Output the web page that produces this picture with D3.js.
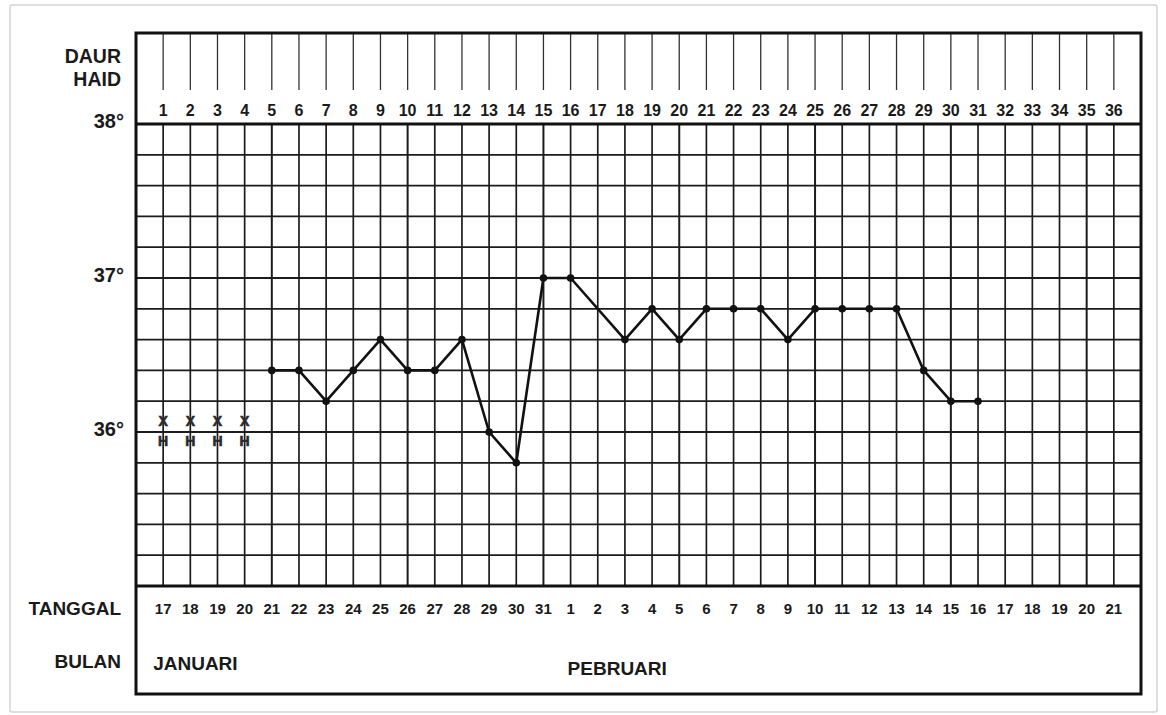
<!DOCTYPE html>
<html><head><meta charset="utf-8">
<script src="https://cdn.jsdelivr.net/npm/d3@7"></script>
<style>
html,body{margin:0;padding:0;background:#fff;}
svg text{font-family:"Liberation Sans",Arial,Helvetica,sans-serif;font-weight:bold;fill:#1a1a1a;}
</style></head>
<body>
<svg id="c" width="1166" height="715"></svg>
<script>
// ---- data ----
const cycleDays = d3.range(1, 37);            // DAUR HAID 1..36
const dateLabels = ["17","18","19","20","21","22","23","24","25","26","27","28","29","30","31",
  "1","2","3","4","5","6","7","8","9","10","11","12","13","14","15","16","17","18","19","20","21"];
const months = ["JANUARI","PEBRUARI"];
const monthStartDay = [1, 16];
const tempDays =  [5,6,7,8,9,10,11,12,13,14,15,16,18,19,20,21,22,23,24,25,26,27,28,29,30,31];
const tempVals =  [36.4,36.4,36.2,36.4,36.6,36.4,36.4,36.6,36.0,35.8,37.0,37.0,36.6,36.8,36.6,36.8,36.8,36.8,36.6,36.8,36.8,36.8,36.8,36.4,36.2,36.2];
const haidDays = [1,2,3,4];
const haidMarkX = 36.07, haidMarkH = 35.94;
const yTickVals = [38, 37, 36];
const yTickLabels = ["38°","37°","36°"];

// ---- layout ----
const svg = d3.select("#c");
const L = 136, R = 1141, T = 33, Y38 = 124, Y35 = 586, B = 694;
const x = d3.scaleLinear().domain([0, 37]).range([L, R]);
const y = d3.scaleLinear().domain([35, 38]).range([Y35, Y38]);

// card border
svg.append("rect").attr("x",10).attr("y",5).attr("width",1147).attr("height",707)
  .attr("fill","#fff").attr("stroke","#d4d4d4").attr("stroke-width",1.5).attr("rx",2);

const ink = "#1c1c1c";
// horizontal grid (every 0.2°)
const hLines = d3.range(35.2, 37.9, 0.2);
svg.append("g").selectAll("line").data(hLines).join("line")
  .attr("x1",L).attr("x2",R).attr("y1",d=>y(d)).attr("y2",d=>y(d))
  .attr("stroke",ink).attr("stroke-width",1.8);

// vertical grid in plot
svg.append("g").selectAll("line").data(cycleDays).join("line")
  .attr("x1",d=>x(d)).attr("x2",d=>x(d)).attr("y1",Y38).attr("y2",Y35)
  .attr("stroke",ink).attr("stroke-width",d=>d%5===0?2.0:1.7);

// header tick lines
svg.append("g").selectAll("line").data(cycleDays).join("line")
  .attr("x1",d=>x(d)).attr("x2",d=>x(d)).attr("y1",T).attr("y2",90)
  .attr("stroke","#333").attr("stroke-width",1.3);

// header numbers
svg.append("g").selectAll("text").data(cycleDays).join("text")
  .attr("x",d=>x(d)).attr("y",116).attr("text-anchor","middle")
  .attr("font-size",16).text(d=>d);

// frame
svg.append("rect").attr("x",L).attr("y",T).attr("width",R-L).attr("height",B-T)
  .attr("fill","none").attr("stroke","#111").attr("stroke-width",3);
svg.append("line").attr("x1",L).attr("x2",R).attr("y1",Y38).attr("y2",Y38).attr("stroke","#111").attr("stroke-width",3);
svg.append("line").attr("x1",L).attr("x2",R).attr("y1",Y35).attr("y2",Y35).attr("stroke","#111").attr("stroke-width",3.2);

// y labels
svg.append("g").selectAll("text").data(yTickVals).join("text")
  .attr("x",124).attr("y",d=>y(d)+4).attr("text-anchor","end")
  .attr("font-size",20).text((d,i)=>yTickLabels[i]);

// left titles
const left = svg.append("g").attr("text-anchor","end").attr("font-size",19.5);
left.append("text").attr("x",121).attr("y",63).text("DAUR");
left.append("text").attr("x",121).attr("y",86).text("HAID");
left.append("text").attr("x",121).attr("y",615).attr("font-size",19).text("TANGGAL");
left.append("text").attr("x",121).attr("y",668).attr("font-size",19).text("BULAN");

// dates
svg.append("g").selectAll("text").data(dateLabels).join("text")
  .attr("x",(d,i)=>x(i+1)).attr("y",614).attr("text-anchor","middle")
  .attr("font-size",15).text(d=>d);

// months
svg.append("g").selectAll("text").data(months).join("text")
  .attr("x",(d,i)=>x(monthStartDay[i]) - (i===0?10:3)).attr("y",(d,i)=>i===0?670:675)
  .attr("font-size",19).text(d=>d);

// haid marks
svg.append("g").selectAll("text").data(haidDays).join("text")
  .attr("x",d=>x(d)).attr("y",y(haidMarkX)+5).attr("text-anchor","middle")
  .attr("font-size",14).style("fill","#2a2a2a").style("stroke","#2a2a2a").style("stroke-width",0.6).text("X");
svg.append("g").selectAll("text").data(haidDays).join("text")
  .attr("x",d=>x(d)).attr("y",y(haidMarkH)+5).attr("text-anchor","middle")
  .attr("font-size",14).style("fill","#2a2a2a").style("stroke","#2a2a2a").style("stroke-width",0.6).text("H");

// temperature line
const pts = tempDays.map((d,i)=>[d,tempVals[i]]);
svg.append("path").datum(pts)
  .attr("d", d3.line().x(d=>x(d[0])).y(d=>y(d[1])))
  .attr("fill","none").attr("stroke","#111").attr("stroke-width",2.6).attr("stroke-linejoin","round");
svg.append("g").selectAll("circle").data(pts).join("circle")
  .attr("cx",d=>x(d[0])).attr("cy",d=>y(d[1])).attr("r",3.8).attr("fill","#111");
</script>
</body></html>
